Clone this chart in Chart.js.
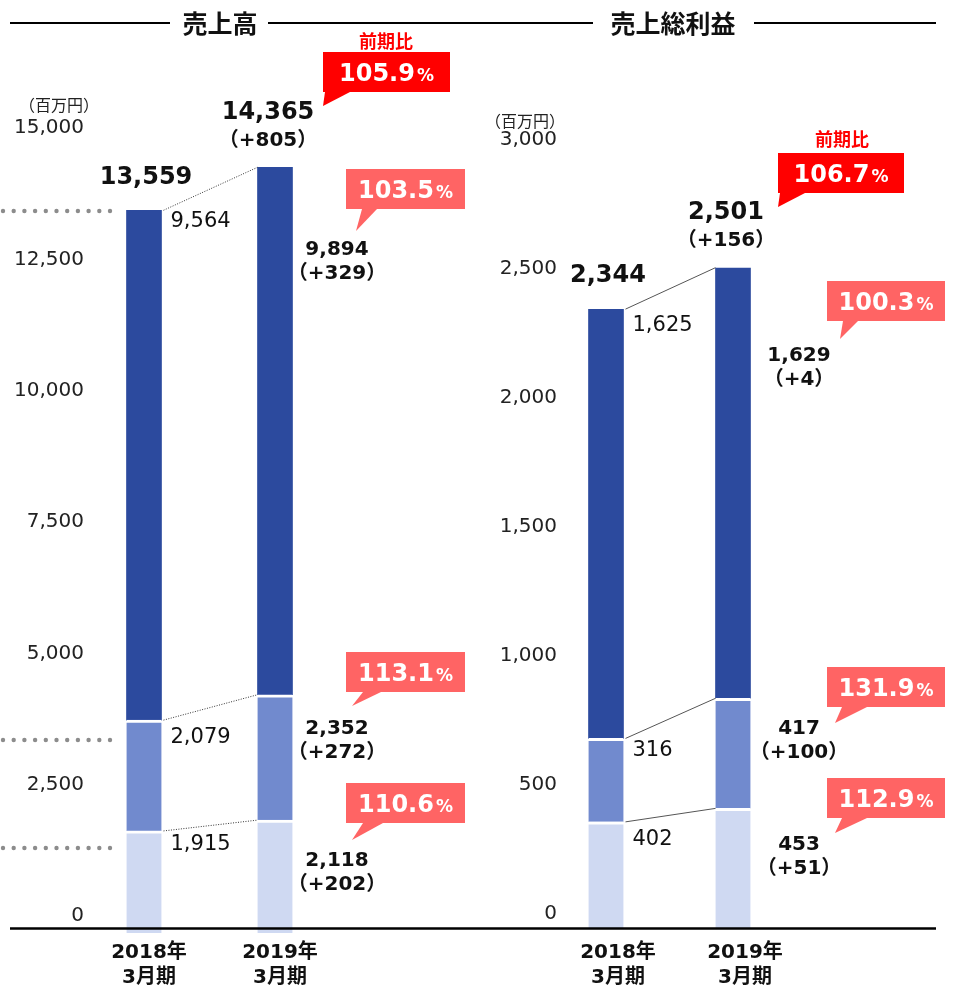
<!DOCTYPE html>
<html>
<head>
<meta charset="utf-8">
<script src="https://cdn.jsdelivr.net/npm/chart.js@4"></script>
<style>
  html, body { margin: 0; padding: 0; background: #fff; }
  #wrap { position: relative; width: 955px; height: 993px; }
  canvas { position: absolute; top: 0; }
</style>
</head>
<body>
<div id="wrap">
  <canvas id="salesChart" width="480" height="993" style="left:0"></canvas>
  <canvas id="profitChart" width="475" height="993" style="left:480px"></canvas>
</div>
<script>
// data
const periods = [['2018年', '3月期'], ['2019年', '3月期']];

// 売上高 (百万円): stacked segments bottom -> top
const salesBase = [1915, 2118];
const salesMid = [2079, 2352];
const salesTop = [9564, 9894];
const salesTotals = [13559, 14365];
const salesTotalChange = 805;
const salesChanges = [202, 272, 329];      // base, mid, top
const salesTotalRatio = '105.9';
const salesRatios = ['110.6', '113.1', '103.5'];
const salesTicks = [0, 2500, 5000, 7500, 10000, 12500, 15000];

// 売上総利益 (百万円)
const profitBase = [402, 453];
const profitMid = [316, 417];
const profitTop = [1625, 1629];
const profitTotals = [2344, 2501];
const profitTotalChange = 156;
const profitChanges = [51, 100, 4];
const profitTotalRatio = '106.7';
const profitRatios = ['112.9', '131.9', '100.3'];
const profitTicks = [0, 500, 1000, 1500, 2000, 2500, 3000];

const FONT = '"DejaVu Sans", "Noto Sans CJK JP", sans-serif';
const JP = '"Noto Sans CJK JP", sans-serif';
const COLORS = ['#CFD9F2', '#718ACE', '#2C4A9E'];
const RED = '#FF0000';
const PINK = '#FF6464';

function fmt(v) { return v.toLocaleString('en-US'); }

// draw "105.9%" with a smaller percent sign
function drawPct(ctx, text, cx, cy) {
  ctx.font = 'bold 24px ' + FONT;
  const w1 = ctx.measureText(text).width;
  ctx.font = 'bold 17px ' + FONT;
  const w2 = ctx.measureText('%').width;
  let x = cx - (w1 + 2 + w2) / 2;
  ctx.fillStyle = '#fff';
  ctx.textAlign = 'left';
  ctx.textBaseline = 'alphabetic';
  ctx.font = 'bold 24px ' + FONT;
  ctx.fillText(text, x, cy + 9);
  ctx.font = 'bold 17px ' + FONT;
  ctx.fillText('%', x + w1 + 2, cy + 9);
}

function drawCallout(ctx, c, text) {
  ctx.fillStyle = c.color;
  ctx.fillRect(c.box[0], c.box[1], c.box[2], c.box[3]);
  ctx.beginPath();
  ctx.moveTo(c.tail[0][0], c.tail[0][1]);
  ctx.lineTo(c.tail[1][0], c.tail[1][1]);
  ctx.lineTo(c.tail[2][0], c.tail[2][1]);
  ctx.closePath();
  ctx.fill();
  drawPct(ctx, text, c.box[0] + c.box[2] / 2, c.box[1] + c.box[3] / 2);
}

function annotPlugin(cfg) {
  return {
    id: 'annot',
    afterDraw(chart) {
      const ctx = chart.ctx;
      const xs = chart.scales.x, ys = chart.scales.y;
      const x1 = xs.getPixelForValue(0), x2 = xs.getPixelForValue(1);
      const hw = 17.5;
      ctx.save();

      // title with side rules
      ctx.strokeStyle = '#000';
      ctx.lineWidth = 2;
      cfg.titleLines.forEach(function (l) {
        ctx.beginPath(); ctx.moveTo(l[0], 23); ctx.lineTo(l[1], 23); ctx.stroke();
      });
      ctx.fillStyle = '#111';
      ctx.font = 'bold 25px ' + JP;
      ctx.textAlign = 'center';
      ctx.textBaseline = 'middle';
      ctx.fillText(cfg.title, cfg.titleX, 23);

      // unit
      ctx.font = '16px ' + JP;
      ctx.fillStyle = '#222';
      ctx.fillText('（百万円）', cfg.unit[0], cfg.unit[1]);

      // decorative dotted rows
      ctx.fillStyle = '#8c8c8c';
      cfg.dotRows.forEach(function (y) {
        for (let i = 0; i < 11; i++) {
          ctx.beginPath(); ctx.arc(3 + i * 10.7, y, 2.2, 0, Math.PI * 2); ctx.fill();
        }
      });

      // baseline
      ctx.strokeStyle = '#000';
      ctx.lineWidth = 2.5;
      ctx.beginPath(); ctx.moveTo(cfg.baseline[0], 928.5); ctx.lineTo(cfg.baseline[1], 928.5); ctx.stroke();

      // connectors between boundaries
      const cum1 = [cfg.base[0], cfg.base[0] + cfg.mid[0], cfg.totals[0]];
      const cum2 = [cfg.base[1], cfg.base[1] + cfg.mid[1], cfg.totals[1]];
      ctx.strokeStyle = cfg.connColor;
      ctx.lineWidth = 1;
      ctx.setLineDash(cfg.connDash);
      for (let i = 0; i < 3; i++) {
        ctx.beginPath();
        ctx.moveTo(x1 + hw + 2, ys.getPixelForValue(cum1[i]));
        ctx.lineTo(x2 - hw, ys.getPixelForValue(cum2[i]));
        ctx.stroke();
      }
      ctx.setLineDash([]);

      // 2018 segment labels
      const seg1 = [cfg.base[0], cfg.mid[0], cfg.top[0]];
      ctx.fillStyle = '#111';
      ctx.font = '21px ' + FONT;
      ctx.textAlign = 'left';
      ctx.textBaseline = 'middle';
      for (let i = 0; i < 3; i++) {
        ctx.fillText(fmt(seg1[i]), x1 + hw + 9, ys.getPixelForValue(cum1[i]) + cfg.seg1Dy[i]);
      }

      // totals
      ctx.textAlign = 'center';
      ctx.font = 'bold 24px ' + FONT;
      const t1y = ys.getPixelForValue(cfg.totals[0]);
      const t2y = ys.getPixelForValue(cfg.totals[1]);
      ctx.fillText(fmt(cfg.totals[0]), x1 + 2, t1y - 33);
      ctx.fillText(fmt(cfg.totals[1]), x2 - 7, t2y - 55);
      ctx.font = 'bold 20px ' + FONT;
      ctx.fillText('（+' + fmt(cfg.totalChange) + '）', x2 - 7, t2y - 27);

      // 2019 segment labels
      const seg2 = [cfg.base[1], cfg.mid[1], cfg.top[1]];
      const segTop2 = [cfg.base[1], cfg.base[1] + cfg.mid[1], cfg.totals[1]];
      ctx.font = 'bold 20px ' + FONT;
      for (let i = 0; i < 3; i++) {
        const y = ys.getPixelForValue(segTop2[i]) + cfg.seg2Dy[i];
        ctx.fillText(fmt(seg2[i]), x2 + cfg.seg2Dx, y);
        ctx.fillText('（+' + fmt(cfg.changes[i]) + '）', x2 + cfg.seg2Dx, y + 24);
      }

      // callouts
      ctx.fillStyle = RED;
      ctx.font = 'bold 18px ' + JP;
      ctx.textAlign = 'center';
      ctx.textBaseline = 'middle';
      ctx.fillText('前期比', cfg.headPos[0], cfg.headPos[1]);
      drawCallout(ctx, cfg.callouts[0], cfg.totalRatio);
      for (let i = 0; i < 3; i++) drawCallout(ctx, cfg.callouts[i + 1], cfg.ratios[i]);

      ctx.restore();
    }
  };
}

function buildChart(id, d) {
  const segBorder = { top: 3, left: 0, right: 0, bottom: 0 };
  new Chart(document.getElementById(id), {
    type: 'bar',
    data: {
      labels: periods,
      datasets: [
        { data: d.base, backgroundColor: COLORS[0], borderColor: '#fff', borderWidth: segBorder, borderSkipped: false, clip: false },
        { data: d.mid, backgroundColor: COLORS[1], borderColor: '#fff', borderWidth: segBorder, borderSkipped: false, clip: false },
        { data: d.top, backgroundColor: COLORS[2], borderWidth: 0, clip: false }
      ]
    },
    options: {
      responsive: false,
      animation: false,
      events: [],
      barThickness: 35,
      layout: { padding: { top: 100, right: d.padRight, left: 0, bottom: 0 } },
      plugins: { legend: { display: false }, tooltip: { enabled: false } },
      scales: {
        x: {
          stacked: true,
          offset: false,
          grid: { display: false, drawTicks: false },
          border: { display: false },
          ticks: {
            color: '#111',
            padding: d.xPad,
            labelOffset: d.xLabelOffset,
            maxRotation: 0,
            autoSkip: false,
            font: { family: FONT, size: 20, weight: 'bold', lineHeight: 1.25 }
          },
          afterFit: function (s) { s.height = d.xHeight; s.paddingLeft = 0; s.paddingRight = 0; }
        },
        // value axis for the bars (hidden)
        y: {
          stacked: true,
          display: false,
          min: 0,
          max: d.barMax
        },
        // axis that carries the printed tick labels
        yt: {
          position: 'left',
          min: d.tickMin,
          max: d.tickMax,
          grid: { display: false, drawTicks: false },
          border: { display: false },
          afterBuildTicks: function (s) { s.ticks = d.ticks.map(function (v) { return { value: v }; }); },
          ticks: {
            color: '#222',
            padding: d.yPad,
            font: { family: FONT, size: 20 },
            callback: function (v) { return fmt(v); }
          },
          afterFit: function (s) { s.width = d.yWidth; s.paddingTop = 0; s.paddingBottom = 0; }
        }
      }
    },
    plugins: [annotPlugin(d)]
  });
}

buildChart('salesChart', {
  base: salesBase, mid: salesMid, top: salesTop, totals: salesTotals,
  totalChange: salesTotalChange, changes: salesChanges,
  totalRatio: salesTotalRatio, ratios: salesRatios, ticks: salesTicks,
  barMax: 15628, tickMin: -324, tickMax: 15534,
  padRight: 205, xHeight: 60, xPad: 7, xLabelOffset: 5, yWidth: 144, yPad: 60,
  title: '売上高', titleX: 220, titleLines: [[10, 170], [268, 480]],
  unit: [59, 105], dotRows: [211, 740, 848], baseline: [10, 480],
  connColor: '#333', connDash: [1, 1.5],
  seg1Dy: [14, 17, 11], seg2Dx: 62, seg2Dy: [41, 34, 82],
  headPos: [386, 41],
  callouts: [
    { color: RED, box: [323, 52, 127, 40], tail: [[325, 92], [350, 92], [323, 106]] },
    { color: PINK, box: [346, 783, 119, 40], tail: [[363, 823], [383, 823], [352, 840]] },
    { color: PINK, box: [346, 652, 119, 40], tail: [[363, 692], [381, 692], [352, 706]] },
    { color: PINK, box: [346, 169, 119, 40], tail: [[362, 209], [377, 209], [356, 231]] }
  ]
});

buildChart('profitChart', {
  base: profitBase, mid: profitMid, top: profitTop, totals: profitTotals,
  totalChange: profitTotalChange, changes: profitChanges,
  totalRatio: profitTotalRatio, ratios: profitRatios, ticks: profitTicks,
  barMax: 3136, tickMin: -54, tickMax: 3155,
  padRight: 222, xHeight: 65, xPad: 12, xLabelOffset: 12, yWidth: 126, yPad: 49,
  title: '売上総利益', titleX: 193, titleLines: [[0, 113], [274, 456]],
  unit: [45, 121], dotRows: [], baseline: [0, 456],
  connColor: '#555', connDash: [],
  seg1Dy: [18, 12, 16], seg2Dx: 66, seg2Dy: [36, 31, 88],
  headPos: [362, 139],
  callouts: [
    { color: RED, box: [298, 153, 126, 40], tail: [[300, 193], [325, 193], [298, 207]] },
    { color: PINK, box: [347, 778, 118, 40], tail: [[362, 818], [387, 818], [355, 833]] },
    { color: PINK, box: [347, 667, 118, 40], tail: [[362, 707], [387, 707], [355, 723]] },
    { color: PINK, box: [347, 281, 118, 40], tail: [[363, 321], [378, 321], [360, 339]] }
  ]
});
</script>
</body>
</html>
